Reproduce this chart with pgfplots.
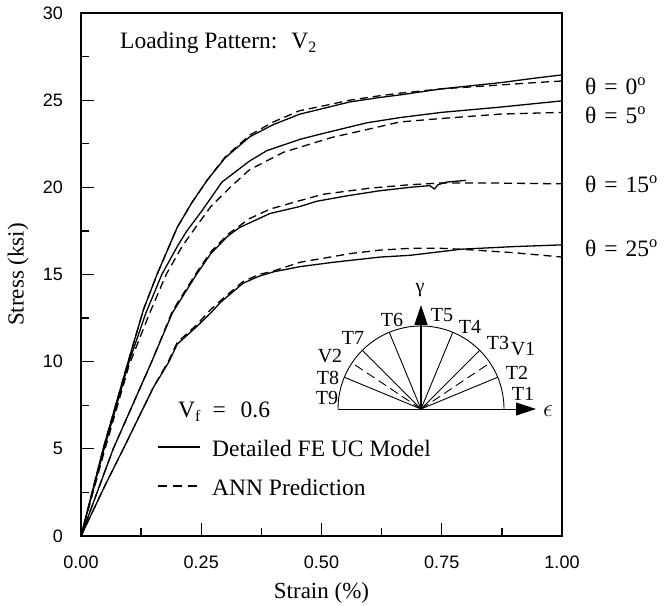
\documentclass[border=0pt]{standalone}
\usepackage{pgfplots}
\pgfplotsset{compat=1.18}
\usepackage{fontspec}
\setmainfont{Liberation Serif}
\newfontfamily\ticksans{Liberation Sans}
\usetikzlibrary{arrows.meta}
\tikzset{fe/.style={black, solid, line width=1.3pt, line join=round, mark=none},
         ann/.style={black, line width=1.3pt, line join=round, mark=none, dash pattern=on 8pt off 5pt}}
\begin{document}
\begin{tikzpicture}
\useasboundingbox (-81pt,-69pt) rectangle (587pt,536pt);
\begin{axis}[
  scale only axis, width=481pt, height=523pt,
  at={(0pt,0pt)}, anchor=south west,
  xmin=0, xmax=1, ymin=0, ymax=30,
  xtick={0,0.25,0.5,0.75,1}, ytick={0,5,...,30},
  minor x tick num=1, minor y tick num=1,
  tick align=inside, xtick pos=bottom, ytick pos=left,
  major tick length=13pt, minor tick length=8pt,
  axis line style={line width=1.6pt},
  every tick/.style={line width=1.3pt, black},
  ticklabel style={font=\ticksans\fontsize{18}{18}\selectfont},
  /pgf/number format/assume math mode=true,
  x tick label style={/pgf/number format/fixed, /pgf/number format/fixed zerofill, /pgf/number format/precision=2, inner sep=0pt, yshift=-20pt},
  y tick label style={inner sep=0pt, xshift=-18pt},
  clip=false,
  xlabel={Strain (\%)}, ylabel={Stress (ksi)},
  label style={font=\fontsize{23}{23}\selectfont},
  xlabel style={at={(axis description cs:0.5,-0.1186)}, anchor=base},
  ylabel style={at={(axis description cs:-0.131,0.5)}, anchor=center},
]
% theta = 0, FE
\addplot[fe] coordinates {(0,0) (0.046,5) (0.098,10) (0.13,13) (0.158,15) (0.2,17.7) (0.23,19.1) (0.262,20.4) (0.30,21.7) (0.351,22.9) (0.40,23.6) (0.455,24.2) (0.5,24.5) (0.559,24.9) (0.62,25.15) (0.663,25.3) (0.75,25.65) (0.871,26.0) (0.94,26.25) (1.0,26.45)};
% theta = 0, ANN
\addplot[ann] coordinates {(0,0) (0.046,5) (0.098,10) (0.13,13) (0.158,15) (0.2,17.7) (0.23,19.1) (0.262,20.4) (0.30,21.75) (0.351,23.0) (0.40,23.75) (0.455,24.4) (0.5,24.65) (0.559,25.0) (0.62,25.25) (0.663,25.4) (0.75,25.65) (0.871,25.87) (0.94,26.0) (1.0,26.1)};
% theta = 5, FE
\addplot[fe] coordinates {(0,0) (0.048,5) (0.1,10) (0.135,12.8) (0.168,15) (0.2,16.6) (0.22,17.5) (0.25,18.6) (0.293,20.3) (0.35,21.5) (0.386,22.1) (0.455,22.75) (0.49,23.0) (0.594,23.7) (0.663,24.0) (0.75,24.3) (0.871,24.6) (1.0,24.96)};
% theta = 5, ANN
\addplot[ann] coordinates {(0,0) (0.049,4.9) (0.1,9.8) (0.14,12.6) (0.177,15) (0.21,16.6) (0.233,17.5) (0.27,18.9) (0.31,20.0) (0.35,21.0) (0.42,22.0) (0.455,22.3) (0.52,22.85) (0.6,23.35) (0.663,23.75) (0.75,23.95) (0.871,24.2) (1.0,24.3)};
% theta = 15, FE
\addplot[fe] coordinates {(0,0) (0.067,5) (0.147,10) (0.19,12.8) (0.24,15) (0.27,16.2) (0.305,17.2) (0.33,17.7) (0.393,18.5) (0.455,18.9) (0.49,19.2) (0.55,19.5) (0.62,19.8) (0.684,20.0) (0.725,20.1) (0.735,19.9) (0.742,20.15) (0.76,20.3) (0.8,20.4)};
% theta = 15, ANN
\addplot[ann] coordinates {(0,0) (0.067,5) (0.147,10) (0.19,12.9) (0.24,15.1) (0.27,16.3) (0.305,17.3) (0.35,18.2) (0.393,18.75) (0.45,19.2) (0.503,19.6) (0.6,19.95) (0.684,20.15) (0.75,20.25) (0.85,20.25) (1.0,20.2)};
% theta = 25, FE
\addplot[fe] coordinates {(0,0) (0.05,2.9) (0.088,5) (0.15,8.5) (0.183,10) (0.2,11.0) (0.24,12.0) (0.27,12.8) (0.29,13.4) (0.337,14.5) (0.37,14.9) (0.40,15.15) (0.455,15.45) (0.524,15.7) (0.622,16.0) (0.684,16.1) (0.79,16.45) (0.9,16.6) (1.0,16.7)};
% theta = 25, ANN
\addplot[ann] coordinates {(0,0) (0.05,2.9) (0.088,5) (0.15,8.5) (0.183,10.1) (0.2,11.1) (0.24,12.1) (0.27,13.0) (0.29,13.5) (0.337,14.6) (0.37,15.0) (0.40,15.2) (0.455,15.7) (0.56,16.2) (0.622,16.4) (0.684,16.5) (0.75,16.5) (0.79,16.45) (0.9,16.25) (1.0,16.0)};
\end{axis}
% annotations
\node[anchor=base west, font=\fontsize{23.5}{23.5}\selectfont, inner sep=0pt] at (39pt,487pt) {Loading Pattern:\hspace{14pt}V\raisebox{-0.35ex}{\fontsize{16}{16}\selectfont 2}};
\node[anchor=base west, font=\fontsize{23.5}{23.5}\selectfont, inner sep=0pt] at (97pt,119pt) {V\raisebox{-0.4ex}{\fontsize{16}{16}\selectfont f}\hspace{12pt}=\hspace{15pt}0.6};
\draw[line width=1.3pt] (77pt,89pt) -- (119pt,89pt);
\node[anchor=base west, font=\fontsize{23.5}{23.5}\selectfont, inner sep=0pt] at (131pt,80pt) {Detailed FE UC Model};
\draw[line width=1.3pt, dash pattern=on 9pt off 6pt] (77pt,50pt) -- (119pt,50pt);
\node[anchor=base west, font=\fontsize{23.5}{23.5}\selectfont, inner sep=0pt] at (131pt,41pt) {ANN Prediction};
% theta labels
\foreach \yy/\t in {449.3/0, 421/5, 352/15, 287.7/25}{
  \node[anchor=west, font=\fontsize{23.5}{23.5}\selectfont, inner sep=0pt] at (504pt,\yy pt) {θ\hspace{8pt}=\hspace{8pt}\t\textsuperscript{o}};
}
% inset diagram
\begin{scope}[shift={(340pt,127pt)}, line width=0.9pt]
  \draw (-83pt,0pt) -- (100pt,0pt);
  \draw[-{Triangle[length=20pt,width=13pt]}] (90pt,0pt) -- (115pt,0pt);
  \draw (83pt,0pt) arc[start angle=0, end angle=180, radius=83pt];
  \foreach \a in {22.5,45,67.5,112.5,135,157.5} \draw (0,0) -- (\a:83pt);
  \foreach \a in {33.75,146.25} \draw[dash pattern=on 9pt off 5pt] (0,0) -- (\a:80pt);
  \draw[line width=1.6pt, -{Triangle[length=20pt,width=13pt]}] (0,0) -- (0,104pt);
  \begin{scope}[every node/.style={font=\fontsize{20}{20}\selectfont, inner sep=0pt}]
    \node at (-1pt,119pt) {γ};
    \node at (21pt,94pt) {T5};
    \node at (-29pt,89pt) {T6};
    \node at (49pt,82pt) {T4};
    \node at (77pt,66pt) {T3};
    \node at (102pt,60pt) {V1};
    \node at (96pt,36pt) {T2};
    \node at (102pt,15pt) {T1};
    \node at (127pt,-2pt) {\fontsize{24}{24}\selectfont$\epsilon$};
    \node at (-68pt,71pt) {T7};
    \node at (-91pt,53pt) {V2};
    \node at (-93pt,31pt) {T8};
    \node at (-94pt,11pt) {T9};
  \end{scope}
\end{scope}
\end{tikzpicture}
\end{document}
